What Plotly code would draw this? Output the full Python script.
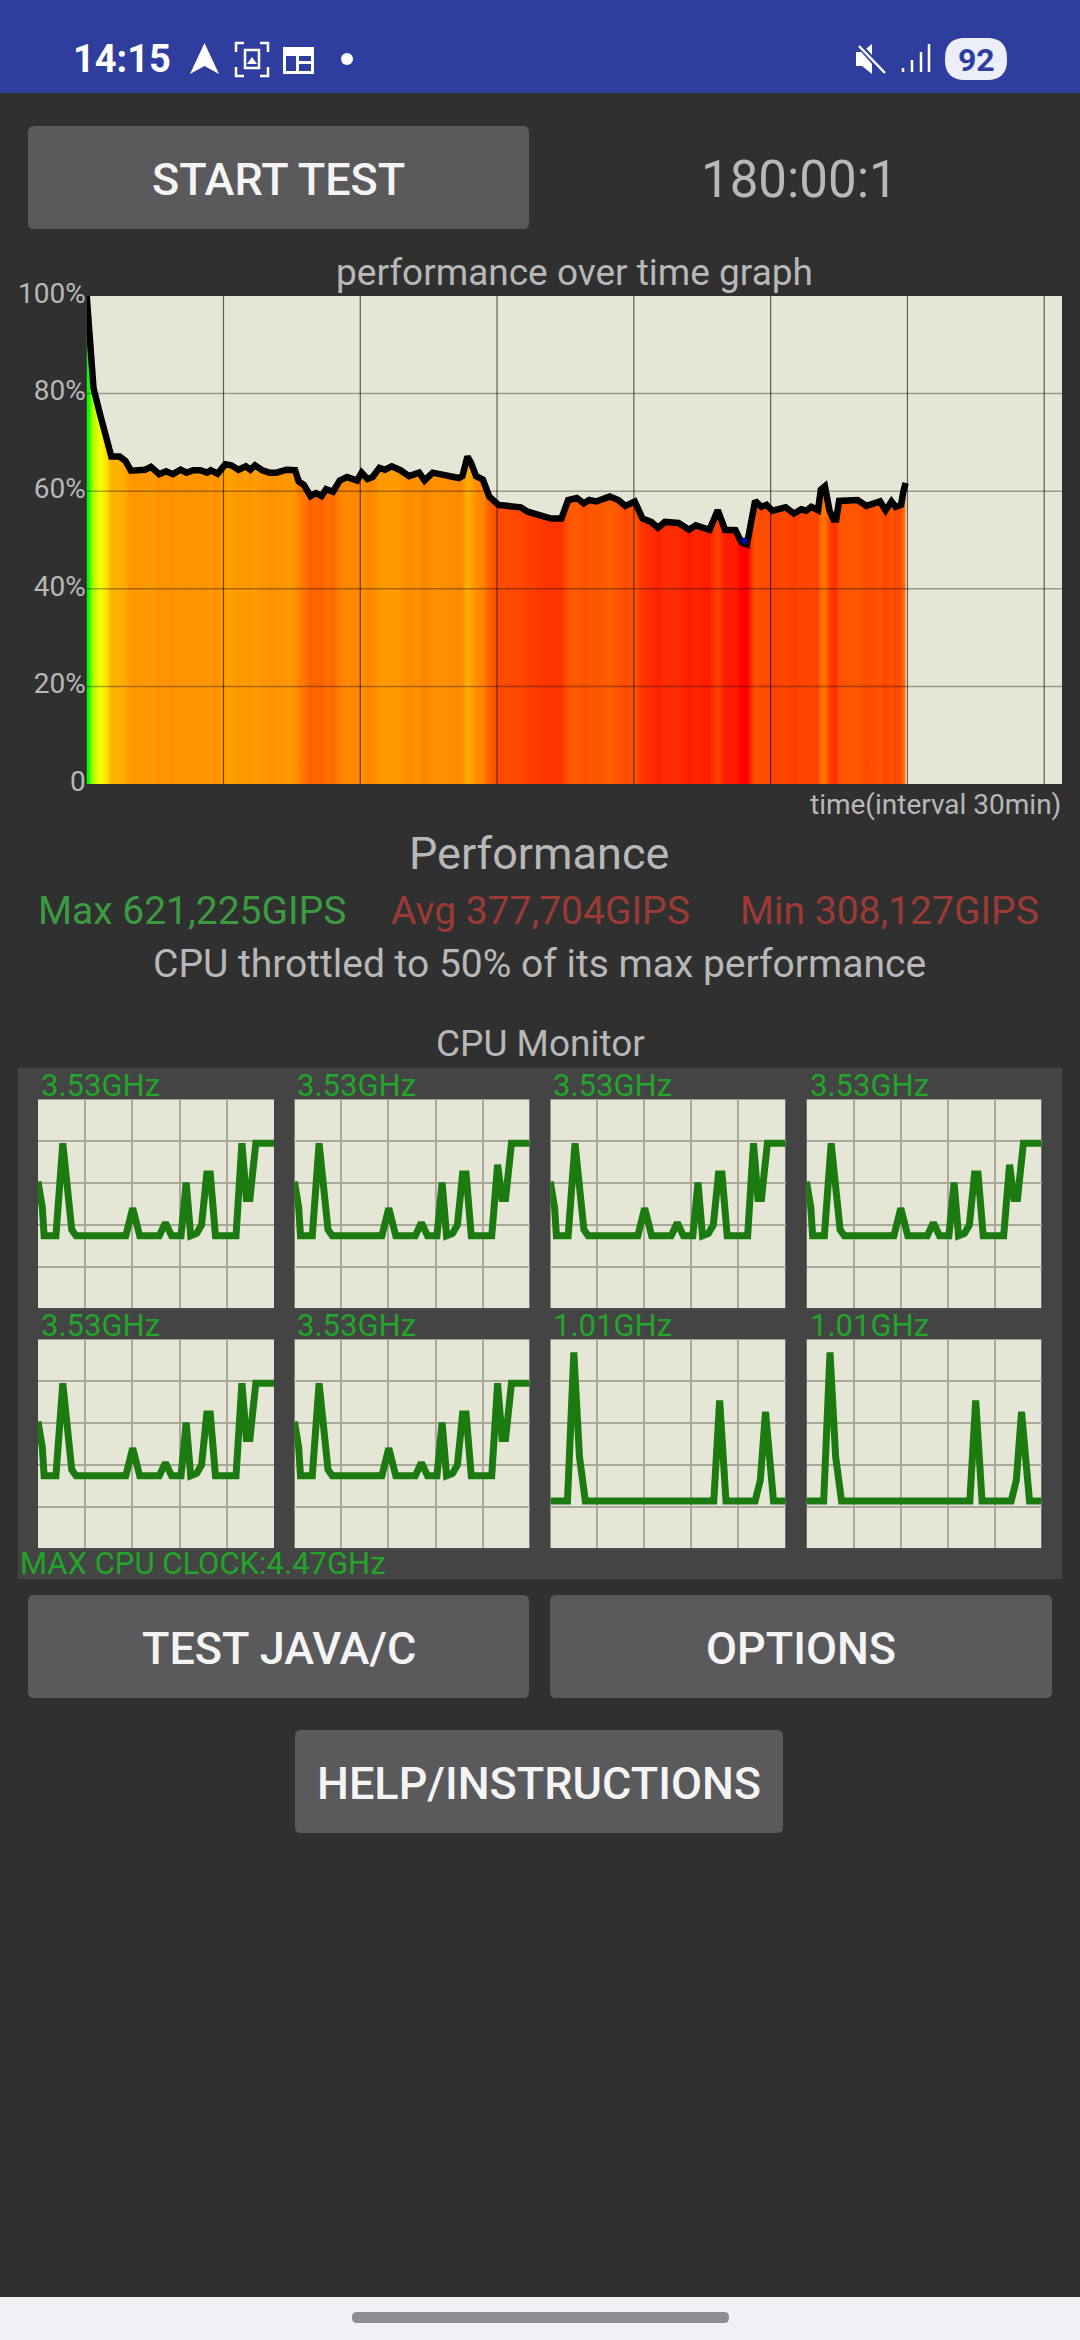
import numpy as np
import plotly.graph_objects as go

# performance curve, minutes / percent of max
times = [0, 0.45, 0.9, 1.5, 3.0, 4.5, 5.4, 7.2, 8.5, 9.7, 11.3, 12.8, 14.1, 15.9, 17.4, 18.9, 20.6, 21.9, 23.4, 24.9,
         26.4, 27.2, 28.7, 30.4, 31.7, 33.3, 34.9, 35.9, 36.9, 38.5, 40.1, 41.6, 43.8, 45.7, 46.5, 47.6, 49.1, 50.3,
         51.5, 52.5, 54.0, 55.5, 57.1, 59.3, 60.3, 61.6, 62.7, 64.2, 65.4, 66.9, 68.8, 70.7, 72.9, 74.1, 75.9, 77.8,
         79.7, 81.6, 82.4, 83.5, 84.3, 85.4, 86.9, 88.3, 90.3, 93.0, 95.2, 96.7, 99.6, 101.9, 104.1, 105.6, 107.5,
         109.0, 110.2, 111.7, 114.7, 116.6, 118.1, 120.2, 121.9, 123.8, 125.3, 126.8, 129.8, 132.1, 133.6, 136.6,
         138.4, 140.0, 142.3, 143.6, 144.8, 145.7, 146.6, 148.0, 149.1, 150.4, 153.3, 155.1, 156.7, 157.8, 158.9,
         160.4, 161.0, 161.9, 162.9, 163.8, 164.4, 165.0, 166.9, 169.1, 171.0, 174.0, 175.2, 176.5, 177.4, 178.6,
         179.1, 179.6]
perf = [100, 92.9, 85.9, 81.1, 75.5, 70.0, 67.1, 67.1, 66.2, 64.2, 64.4, 64.4, 65.0, 63.5, 64.1, 63.5, 64.4, 63.8, 64.3,
        64.3, 63.8, 64.3, 63.6, 65.5, 65.3, 64.4, 65.1, 64.4, 65.3, 64.3, 63.8, 63.8, 64.4, 64.3, 62.0, 61.3, 59.0,
        59.6, 59.0, 60.4, 59.9, 62.2, 62.9, 62.2, 63.8, 62.5, 62.9, 64.8, 64.4, 65.1, 64.3, 63.1, 63.8, 62.2, 63.8,
        63.4, 63.3, 62.7, 63.1, 67.1, 65.8, 63.1, 62.4, 58.9, 57.2, 56.8, 56.7, 55.8, 54.9, 54.4, 54.4, 58.2, 58.6,
        57.5, 58.2, 57.9, 58.9, 58.2, 57.0, 57.9, 54.4, 53.7, 52.5, 53.7, 53.5, 52.1, 53.0, 52.1, 56.1, 52.1, 52.0,
        49.5, 49.1, 53.4, 58.0, 56.8, 57.2, 56.0, 56.7, 55.4, 56.3, 56.0, 56.8, 56.1, 60.3, 61.0, 56.1, 54.2, 54.2,
        58.0, 58.0, 58.2, 57.0, 57.9, 56.1, 57.9, 56.8, 57.2, 59.9, 61.7]
min_time = [144.2]
min_perf = [49.9]
perf_ticks = [0, 20, 40, 60, 80, 100]
perf_labels = ["0", "20%", "40%", "60%", "80%", "100%"]
time_ticks = [30, 60, 90, 120, 150, 180, 210]

# cpu monitor traces, percent of window / GHz
big_x = [0, 1.8, 2.6, 7.6, 10.5, 14.3, 16.1, 37.2, 40.1, 43.1, 51.4, 54.0, 56.6, 60.6, 62.8, 64.7, 67.2, 69.3, 71.5,
         73.0, 75.2, 83.9, 86.4, 88.3, 89.8, 92.3, 100]
big_a = [2.71, 2.17, 1.55, 1.55, 3.53, 1.68, 1.55, 1.55, 2.14, 1.55, 1.55, 1.83, 1.55, 1.55, 2.69, 1.55, 1.60, 1.78,
         2.87, 2.87, 1.55, 1.55, 3.53, 2.35, 2.35, 3.53, 3.53]
big_b = [2.71, 2.17, 1.55, 1.55, 3.53, 1.68, 1.55, 1.55, 2.14, 1.55, 1.55, 1.83, 1.55, 1.55, 2.69, 1.55, 1.60, 1.78,
         2.87, 2.87, 1.55, 1.55, 3.07, 2.35, 2.35, 3.53, 3.53]
small_x = [0, 7.3, 10.0, 12.4, 14.9, 69.5, 72.0, 74.7, 87.1, 89.3, 91.5, 94.9, 100]
small_y = [1.01, 1.01, 4.19, 1.96, 1.01, 1.01, 3.16, 1.01, 1.01, 1.46, 2.92, 1.01, 1.01]
core_labels = ["3.53GHz", "3.53GHz", "3.53GHz", "3.53GHz", "3.53GHz", "3.53GHz", "1.01GHz", "1.01GHz"]
core_x = [big_x, big_x, big_x, big_x, big_x, big_x, small_x, small_x]
core_y = [big_a, big_b, big_a, big_b, big_a, big_a, small_y, small_y]
max_clock = 4.47
clock_ticks = [0.894, 1.788, 2.682, 3.576]
window_ticks = [20, 40, 60, 80]

BG = "#303030"
PANEL = "#444444"
BEIGE = "#e6e6d6"
BAR = "#2f3e9e"
BTN = "#5a5a5c"
GREY = "#b8b8b8"
W, H = 1080, 2340
FONT = "Roboto"

# heat colour of the fill follows the performance level
level_pos = [49, 54, 58, 60, 63, 65, 67, 71, 75, 80, 92, 100]
level_rgb = [(255, 0, 0), (255, 48, 0), (255, 85, 0), (255, 108, 0), (255, 140, 0), (255, 156, 0), (255, 176, 0),
             (255, 235, 0), (255, 255, 0), (200, 255, 0), (0, 255, 0), (0, 255, 0)]


def level_color(v):
    r, g, b = [int(np.interp(v, level_pos, [c[i] for c in level_rgb])) for i in range(3)]
    return f"rgb({r},{g},{b})"


def rounded(x0, y0, x1, y1, r):
    return (f"M{x0+r},{y0} L{x1-r},{y0} Q{x1},{y0} {x1},{y0+r} L{x1},{y1-r} Q{x1},{y1} {x1-r},{y1} "
            f"L{x0+r},{y1} Q{x0},{y1} {x0},{y1-r} L{x0},{y0+r} Q{x0},{y0} {x0+r},{y0} Z")


fig = go.Figure()
# page sized axis carries the app chrome, in pixels
fig.add_trace(go.Scatter(x=[None], y=[None], xaxis="x", yaxis="y", hoverinfo="skip"))

shapes = []
annots = []


def chrome(path, fill=None, line=None, lw=0):
    shapes.append(dict(type="path", path=path, xref="x", yref="y", layer="below", fillcolor=fill,
                       line=dict(color=line, width=lw)))


def label(x, y, text, size, color=GREY, anchor="center", weight=400):
    annots.append(dict(x=x, y=y, xref="x", yref="y", text=text, showarrow=False, xanchor=anchor, yanchor="middle",
                       font=dict(family=FONT, size=size, color=color, weight=weight)))


chrome(f"M0,0 L{W},0 L{W},93 L0,93 Z", fill=BAR)
chrome(f"M0,2297 L{W},2297 L{W},{H} L0,{H} Z", fill="#f0f1f5")
chrome(rounded(352, 2312, 729, 2323, 5), fill="#8e8e92")
chrome(f"M18,1068 L1062,1068 L1062,1579 L18,1579 Z", fill=PANEL)
for x0, y0, x1, y1, txt in [(28, 126, 529, 229, "START TEST"), (28, 1595, 529, 1698, "TEST JAVA/C"),
                            (550, 1595, 1052, 1698, "OPTIONS"), (295, 1730, 783, 1833, "HELP/INSTRUCTIONS")]:
    chrome(rounded(x0, y0, x1, y1, 6), fill=BTN)
    label((x0 + x1) / 2, (y0 + y1) / 2 + 2, txt, 45, "#f4f4f4", weight=500)

# status bar icons
label(71, 59, "14:15", 38, "#ffffff", "left", 700)
chrome("M204.5,43 L219,74 L204.5,66 L190,74 Z", fill="#ffffff")
chrome("M236,52 L236,43 L244,43 M260,43 L268,43 L268,52 M268,67 L268,76 L260,76 M244,76 L236,76 L236,67",
       line="#ffffff", lw=2.5)
chrome("M245,50 L259,50 L259,68 L245,68 Z", line="#ffffff", lw=2.5)
chrome("M247,64 L252,57 L257,64 Z", fill="#ffffff")
chrome("M283,47 L314,47 L314,74 L283,74 Z M286,56 L286,71 L296,71 L296,56 Z M299,56 L299,61 L311,61 L311,56 Z "
       "M299,64 L299,71 L311,71 L311,64 Z", fill="#ffffff")
shapes.append(dict(type="circle", xref="x", yref="y", x0=341, x1=353, y0=53, y1=65, layer="below",
                   fillcolor="#ffffff", line=dict(width=0)))
chrome("M856,52 L862,52 L872,44 L872,74 L862,66 L856,66 Z", fill="#ffffff")
chrome("M860,46 L885,74", line=BAR, lw=6)
chrome("M859,46 L885,73", line="#ffffff", lw=2.5)
chrome("M903,72 L903,68 M912,72 L912,60 M921,72 L921,52 M929,72 L929,44", line="#ffffff", lw=2.5)
chrome(rounded(945, 38, 1007, 80, 20), fill="#eceefa")
label(976, 60, "92", 32, BAR, weight=700)

label(799, 179, "180:00:1", 51)
label(574, 272, "performance over time graph", 37)
label(1063, 804, "time(interval 30min)", 28, anchor="right")
label(539, 853, "Performance", 45)
label(36, 911, "Max 621,225GIPS", 39, "#3c9a40", "left")
label(389, 911, "Avg 377,704GIPS", 39, "#9c3a36", "left")
label(738, 911, "Min 308,127GIPS", 39, "#9c3a36", "left")
label(539, 964, "CPU throttled to 50% of its max performance", 39)
label(540, 1043, "CPU Monitor", 37)
label(18, 1563, "MAX CPU CLOCK:4.47GHz", 31, "#22a52a", "left")


def xdom(x0, x1):
    return [x0 / W, x1 / W]


def ydom(y0, y1):
    return [1 - y1 / H, 1 - y0 / H]


layout = dict(
    width=W, height=H, margin=dict(l=0, r=0, t=0, b=0), paper_bgcolor=BG, plot_bgcolor="rgba(0,0,0,0)",
    showlegend=False,
    xaxis=dict(domain=[0, 1], range=[0, W], visible=False, fixedrange=True, automargin=False),
    yaxis=dict(domain=[0, 1], range=[H, 0], visible=False, fixedrange=True, automargin=False),
)

# main performance graph
layout["xaxis2"] = dict(domain=xdom(86.7, 1062), range=[0, 213.9], anchor="y2", showgrid=False, zeroline=False,
                        showticklabels=False, ticks="", automargin=False)
layout["yaxis2"] = dict(domain=ydom(296, 784), range=[0, 100], anchor="x2", showgrid=False, zeroline=False,
                        tickvals=perf_ticks, ticktext=perf_labels, ticks="", ticklabelshift=-3, automargin=False,
                        tickfont=dict(family=FONT, size=28, color=GREY))
shapes.append(dict(type="rect", xref="x2", yref="y2", x0=0, x1=213.9, y0=0, y1=100, layer="below",
                   fillcolor=BEIGE, line=dict(width=0)))

stops = [[t / times[-1], level_color(p)] for t, p in zip(times, perf)]
fig.add_trace(go.Scatter(x=times, y=perf, xaxis="x2", yaxis="y2", mode="none", fill="tozeroy",
                         fillgradient=dict(type="horizontal", colorscale=stops, start=times[0], stop=times[-1]),
                         hoverinfo="skip"))

grid_x, grid_y = [], []
for t in time_ticks:
    grid_x += [t, t, None]
    grid_y += [0, 100, None]
fig.add_trace(go.Scatter(x=grid_x, y=grid_y, xaxis="x2", yaxis="y2", mode="lines", hoverinfo="skip",
                         line=dict(color="rgba(0,0,0,0.6)", width=1.2)))
grid_x, grid_y = [], []
for p in perf_ticks[1:-1]:
    grid_x += [0, 213.9, None]
    grid_y += [p, p, None]
fig.add_trace(go.Scatter(x=grid_x, y=grid_y, xaxis="x2", yaxis="y2", mode="lines", hoverinfo="skip",
                         line=dict(color="rgba(0,0,0,0.33)", width=1.5)))
fig.add_trace(go.Scatter(x=times, y=perf, xaxis="x2", yaxis="y2", mode="lines", line=dict(color="#000000", width=6.5)))
fig.add_trace(go.Scatter(x=min_time, y=min_perf, xaxis="x2", yaxis="y2", mode="markers",
                         marker=dict(color="#0000c8", size=6)))

# cpu monitor windows
left_edges = [38, 294.4, 550.3, 806.5]
right_edges = [274, 529.6, 785.5, 1041.5]
tops = [1099.3, 1339.3]
for i in range(8):
    n = i + 3
    col, row = i % 4, i // 4
    x0, x1 = left_edges[col], right_edges[col]
    y0 = tops[row]
    grid = dict(showgrid=True, gridcolor="#a8a89c", gridwidth=2, zeroline=False, showticklabels=False, ticks="",
                automargin=False)
    layout[f"xaxis{n}"] = dict(domain=xdom(x0, x1), range=[0, 100], anchor=f"y{n}", tickvals=window_ticks, **grid)
    layout[f"yaxis{n}"] = dict(domain=ydom(y0, y0 + 209), range=[0, max_clock], anchor=f"x{n}",
                               tickvals=clock_ticks, **grid)
    shapes.append(dict(type="rect", xref=f"x{n}", yref=f"y{n}", x0=0, x1=100, y0=0, y1=max_clock, layer="below",
                       fillcolor=BEIGE, line=dict(width=0)))
    fig.add_trace(go.Scatter(x=core_x[i], y=core_y[i], xaxis=f"x{n}", yaxis=f"y{n}", mode="lines",
                             line=dict(color="#1b7a10", width=7)))
    label(x0 + 1, y0 - 14, core_labels[i], 31, "#22a52a", "left")

fig.update_layout(shapes=shapes, annotations=annots, **layout)
fig.write_html("out.html", config=dict(displayModeBar=False),
               post_script="document.body.style.margin='0';document.documentElement.style.overflow='hidden';")
